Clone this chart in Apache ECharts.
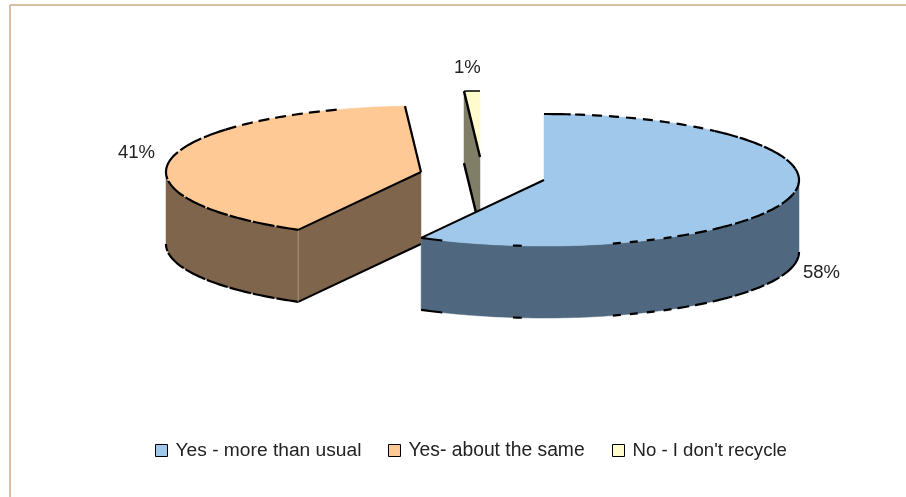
<!DOCTYPE html>
<html><head><meta charset="utf-8">
<style>html,body{margin:0;padding:0;background:#fff}#c{width:906px;height:497px}</style>
<script src="https://cdn.jsdelivr.net/npm/echarts@6/dist/echarts.min.js"></script>
</head><body><div id="c"></div>
<script>
const categories = ['Yes - more than usual', 'Yes- about the same', "No - I don't recycle"];
const percentValues = [58, 41, 1];
const topColors = ['#9FC8EB', '#FFC995', '#FFFBCC'];
const wallColors = ['#4F6880', '#80654D', '#807E67'];
const centers = [[544, 180], [421, 172], [480, 157]];
const labelAnchors = [[803, 263], [118, 143], [454, 58]];
const legendLefts = [155, 388, 612];
const legendFontSizes = [19.2, 19.3, 18.6];
const drawOrder = [3, 1, 2];
const RX = 255, RY = 66, DEPTH = 72;
const total = percentValues.reduce((a, b) => a + b, 0);
const starts = []; let acc = 0;
percentValues.forEach(v => { starts.push(acc / total * Math.PI * 2); acc += v; });
const D = Math.PI / 180;

function rimPoint(c, a, dz) { return [c[0] + RX * Math.sin(a), c[1] - RY * Math.cos(a) + (dz || 0)]; }
function arc(c, a0, a1, dz) {
  const n = Math.max(2, Math.ceil(Math.abs(a1 - a0) / 0.02)), out = [];
  for (let i = 0; i <= n; i++) out.push(rimPoint(c, a0 + (a1 - a0) * i / n, dz));
  return out;
}
const poly = (pts, fill, z) => ({ type: 'polygon', shape: { points: pts }, style: { fill, stroke: fill, lineWidth: 0.5 }, z2: z });
const line = (pts, w, dash, z, color) => ({ type: 'polyline', shape: { points: pts }, style: { fill: null, stroke: color || '#000', lineWidth: w, lineDash: dash || null }, z2: z });
// stroke pattern of the rim: [fromDeg, toDeg, dash]
const frontBlue = [[80, 103, [24, 2]], [103, 135, [14, 3]], [135, 150, [12, 6]], [150, 166, [8, 9]], [185, 187, null], [203.5, 208.8, null]];
const backBlue = [[0, 6, null], [7, 42, [10, 7]], [42, 80, [24, 2]]];
const frontOrange = [[208.8, 270, [22, 2]]];
const backOrange = [[270, 310, [24, 3]], [310, 342, [11, 6]]];
const strokes = (c, list, dz, z) => list.map(r => line(arc(c, r[0] * D, r[1] * D, dz), 2.2, r[2], z));

function renderSlice(params, api) {
  const i = params.seriesIndex;
  const v = api.value(0), c = centers[i];
  const a0 = starts[i], a1 = a0 + v / total * Math.PI * 2;
  const top = arc(c, a0, a1);
  let kids = [];
  const pA = rimPoint(c, a0), pB = rimPoint(c, a1);
  const down = p => [p[0], p[1] + DEPTH];
  if (i === 0) {
    const f = arc(c, Math.PI / 2, a1);
    kids.push(poly(f.concat(f.map(down).reverse()), wallColors[i], 1));
    kids = kids.concat(strokes(c, frontBlue.filter(r => r[0] >= 90 || r[1] > 90).map(r => [Math.max(r[0], 90), r[1], r[2]]), DEPTH, 3));
    kids.push(poly([c].concat(top), topColors[i], 4));
    kids = kids.concat(strokes(c, backBlue.concat(frontBlue), 0, 5));
    kids.push(line([c, pB], 2, null, 5));
  } else if (i === 1) {
    const f = arc(c, a0, Math.PI * 1.5);
    kids.push(poly(f.concat(f.map(down).reverse()), wallColors[i], 1));
    kids.push(poly([c, pA, down(pA), down(c)], wallColors[i], 1));
    kids = kids.concat(strokes(c, frontOrange, DEPTH, 3));
    kids.push(line([down(pA), down(c)], 2, null, 3));
    kids.push(line([pA, down(pA)], 0.7, null, 3, '#B9A68F'));
    kids.push(poly([c].concat(top), topColors[i], 4));
    kids = kids.concat(strokes(c, frontOrange.concat(backOrange), 0, 5));
    kids.push(line([pA, c], 2, null, 5));
    kids.push(line([c, pB], 2.2, null, 5));
  } else {
    kids.push(poly([pA, c, down(c), down(pA)], wallColors[i], 1));
    kids.push(line([down(pA), down(c)], 2.4, null, 3));
    kids.push(poly([c].concat(top), topColors[i], 4));
    kids.push(line(top, 1.5, null, 5));
    kids.push(line([pA, c], 2.4, null, 5));
  }
  return { type: 'group', children: kids };
}

const labelData = categories.map((_, i) => ({
  type: 'text', z: 30,
  left: labelAnchors[i][0], top: labelAnchors[i][1],
  style: { text: percentValues[i] + '%', fill: '#222', font: '18.5px "Liberation Sans", Arial, sans-serif' }
}));

const chart = echarts.init(document.getElementById('c'), null, { renderer: 'canvas', width: 906, height: 497 });
chart.setOption({
  animation: false,
  backgroundColor: '#fff',
  graphic: [
    { type: 'line', shape: { x1: 10, y1: 5, x2: 906, y2: 5 }, style: { stroke: '#CDAA84', lineWidth: 1.5 } },
    { type: 'line', shape: { x1: 10, y1: 5, x2: 10, y2: 497 }, style: { stroke: '#CDAA84', lineWidth: 1.5 } }
  ].concat(labelData),
  legend: categories.map((name, i) => ({
    left: legendLefts[i], top: 441, padding: 0, icon: 'rect', itemWidth: 12, itemHeight: 12, itemGap: 0,
    data: [name],
    textStyle: { color: '#222', fontFamily: '"Liberation Sans", Arial, sans-serif', fontSize: legendFontSizes[i], padding: [0, 0, 0, 3] },
    itemStyle: { borderColor: '#000', borderWidth: 1 },
    selectedMode: false
  })),
  series: categories.map((name, i) => ({
    type: 'custom', name, coordinateSystem: 'none', z: drawOrder[i],
    itemStyle: { color: topColors[i] },
    data: [[percentValues[i]]],
    renderItem: renderSlice,
    silent: true
  }))
});
</script></body></html>
